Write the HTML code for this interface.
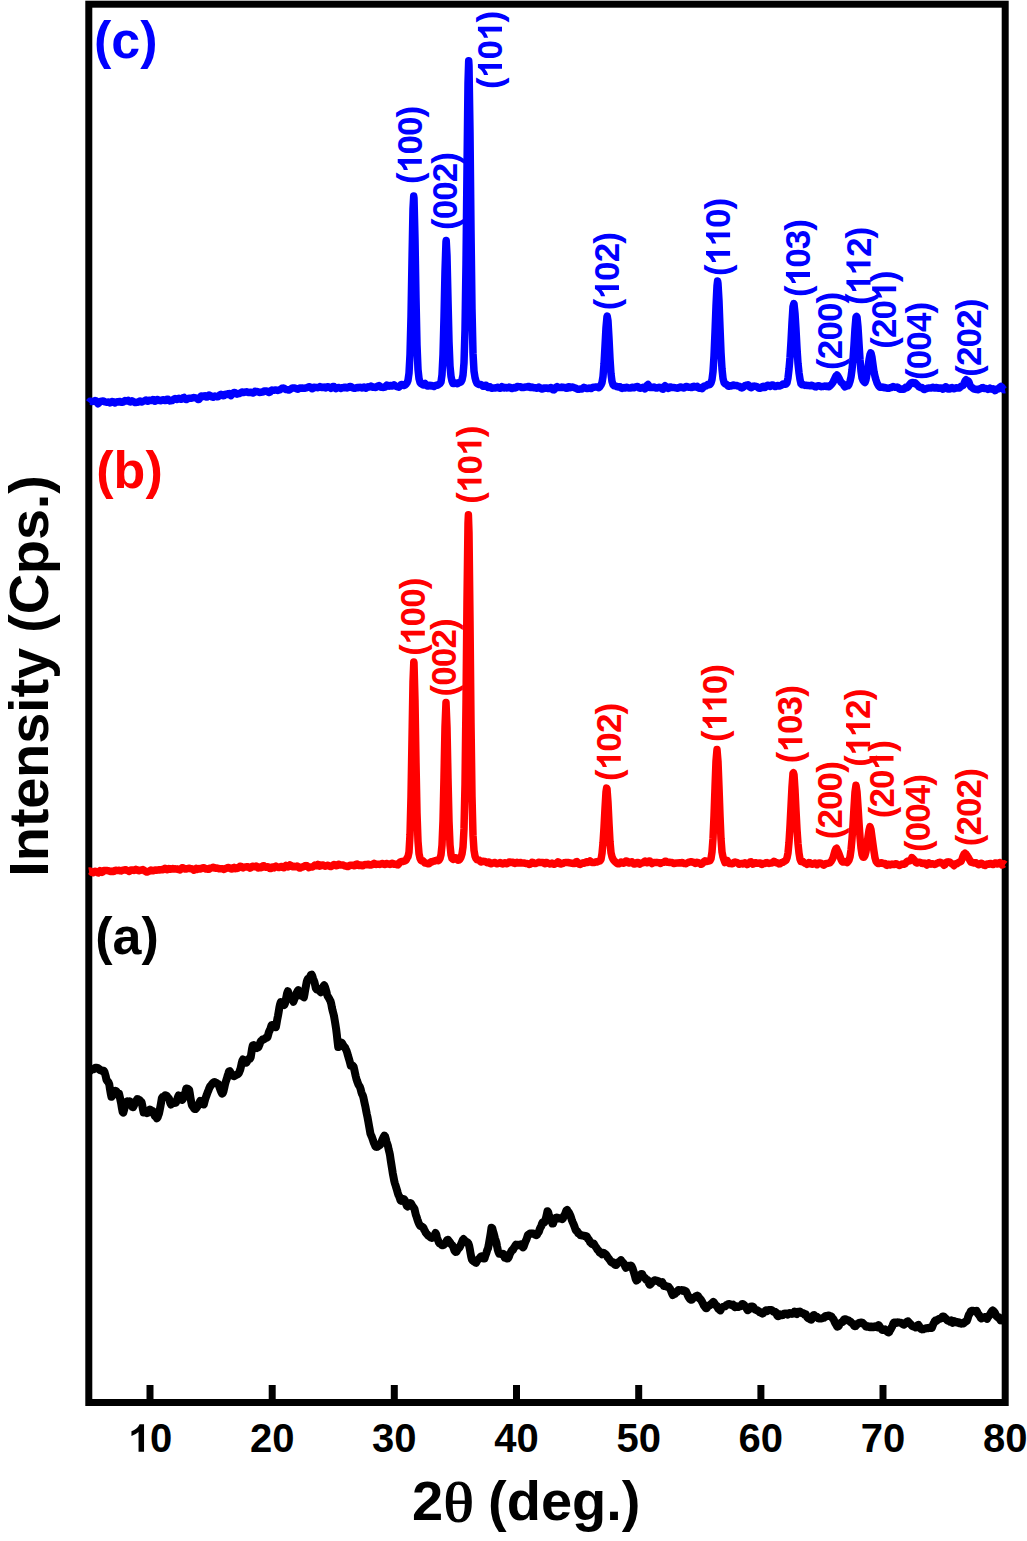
<!DOCTYPE html>
<html><head><meta charset="utf-8"><style>
html,body{margin:0;padding:0;background:#fff;}
body{width:1027px;height:1541px;overflow:hidden;}
svg{position:absolute;left:0;top:0;}
text{font-family:"Liberation Sans",sans-serif;font-weight:bold;}
</style></head><body>
<svg width="1027" height="1541" viewBox="0 0 1027 1541">

<rect x="88.8" y="4.2" width="916.4" height="1398.3" fill="none" stroke="#000" stroke-width="7"/>
<g stroke="#000" stroke-width="7"><line x1="150.0" y1="1399" x2="150.0" y2="1385" /><line x1="272.2" y1="1399" x2="272.2" y2="1385" /><line x1="394.3" y1="1399" x2="394.3" y2="1385" /><line x1="516.5" y1="1399" x2="516.5" y2="1385" /><line x1="638.7" y1="1399" x2="638.7" y2="1385" /><line x1="760.9" y1="1399" x2="760.9" y2="1385" /><line x1="883.0" y1="1399" x2="883.0" y2="1385" /></g>
<g fill="none" stroke-linejoin="round" stroke-linecap="butt" stroke-width="7.5">
<path stroke="#0000ff" d="M89.0 402.5L90.0 401.2L91.0 401.3L92.0 401.6L93.0 401.4L94.0 401.1L95.0 400.6L96.0 400.9L97.0 402.3L98.0 403.7L99.0 402.9L100.0 401.7L101.0 401.4L102.0 401.1L103.0 400.9L104.0 401.4L105.0 401.9L106.0 402.1L107.0 402.3L108.0 402.0L109.0 402.2L110.0 402.9L111.0 402.4L112.0 401.6L113.0 401.7L114.0 402.6L115.0 403.0L116.0 402.1L117.0 401.8L118.0 402.0L119.0 401.4L120.0 401.5L121.0 402.3L122.0 402.3L123.0 402.1L124.0 401.2L125.0 400.5L126.0 401.1L127.0 400.9L128.0 400.4L129.0 401.5L130.0 402.0L131.0 401.2L132.0 400.8L133.0 401.3L134.0 402.0L135.0 402.6L136.0 402.5L137.0 402.2L138.0 402.2L139.0 401.5L140.0 401.1L141.0 401.8L142.0 402.0L143.0 401.3L144.0 401.0L145.0 400.5L146.0 400.1L147.0 401.0L148.0 401.2L149.0 400.3L150.0 400.3L151.0 400.6L152.0 400.5L153.0 399.6L154.0 399.8L155.0 401.2L156.0 400.9L157.0 399.5L158.0 399.7L159.0 400.3L160.0 400.6L161.0 400.8L162.0 400.1L163.0 399.7L164.0 400.0L165.0 400.6L166.0 400.3L167.0 399.2L168.0 399.2L169.0 400.5L170.0 400.9L171.0 400.7L172.0 400.6L173.0 399.9L174.0 399.0L175.0 398.5L176.0 399.1L177.0 399.5L178.0 398.6L179.0 398.3L180.0 398.8L181.0 399.3L182.0 399.0L183.0 397.8L184.0 397.4L185.0 398.5L186.0 399.5L187.0 399.4L188.0 398.6L189.0 398.2L190.0 398.2L191.0 398.3L192.0 398.1L193.0 397.7L194.0 397.6L195.0 397.8L196.0 397.9L197.0 398.5L198.0 399.4L199.0 399.4L200.0 397.9L201.0 396.2L202.0 395.9L203.0 396.5L204.0 396.2L205.0 395.8L206.0 396.9L207.0 397.0L208.0 395.6L209.0 395.0L210.0 395.4L211.0 396.0L212.0 396.9L213.0 397.2L214.0 396.4L215.0 396.0L216.0 396.3L217.0 396.7L218.0 396.7L219.0 395.9L220.0 394.8L221.0 394.3L222.0 394.8L223.0 395.7L224.0 395.5L225.0 394.5L226.0 394.3L227.0 394.4L228.0 393.8L229.0 393.6L230.0 394.9L231.0 395.6L232.0 394.4L233.0 393.1L234.0 392.5L235.0 392.7L236.0 393.7L237.0 394.2L238.0 393.7L239.0 393.5L240.0 393.4L241.0 392.8L242.0 392.0L243.0 392.2L244.0 392.5L245.0 392.2L246.0 391.9L247.0 391.8L248.0 392.3L249.0 392.6L250.0 392.2L251.0 392.2L252.0 392.7L253.0 393.1L254.0 392.5L255.0 391.3L256.0 391.4L257.0 391.6L258.0 391.7L259.0 392.3L260.0 392.5L261.0 392.2L262.0 392.0L263.0 392.0L264.0 391.2L265.0 390.9L266.0 391.0L267.0 391.2L268.0 392.0L269.0 392.4L270.0 392.0L271.0 390.8L272.0 390.0L273.0 390.3L274.0 390.3L275.0 389.9L276.0 389.9L277.0 390.3L278.0 390.4L279.0 389.9L280.0 389.7L281.0 389.0L282.0 388.3L283.0 388.1L284.0 388.2L285.0 389.0L286.0 389.6L287.0 389.5L288.0 389.8L289.0 390.1L290.0 389.5L291.0 388.9L292.0 388.1L293.0 387.9L294.0 388.1L295.0 388.0L296.0 388.5L297.0 389.1L298.0 389.2L299.0 388.5L300.0 388.1L301.0 388.2L302.0 388.1L303.0 388.1L304.0 388.3L305.0 388.2L306.0 387.9L307.0 387.6L308.0 387.2L309.0 386.8L310.0 387.0L311.0 387.7L312.0 388.8L313.0 388.5L314.0 387.2L315.0 387.4L316.0 387.6L317.0 387.4L318.0 387.7L319.0 387.2L320.0 386.5L321.0 387.0L322.0 387.6L323.0 387.3L324.0 387.1L325.0 387.8L326.0 387.9L327.0 386.9L328.0 386.7L329.0 387.1L330.0 387.6L331.0 388.4L332.0 387.8L333.0 386.6L334.0 386.6L335.0 387.8L336.0 388.7L337.0 388.0L338.0 387.5L339.0 387.6L340.0 388.1L341.0 388.5L342.0 387.8L343.0 387.6L344.0 387.7L345.0 387.3L346.0 387.2L347.0 387.9L348.0 387.6L349.0 386.9L350.0 386.4L351.0 386.6L352.0 387.5L353.0 388.1L354.0 388.2L355.0 388.2L356.0 387.8L357.0 387.5L358.0 387.7L359.0 387.6L360.0 387.3L361.0 387.7L362.0 388.0L363.0 387.3L364.0 387.0L365.0 387.8L366.0 388.2L367.0 387.3L368.0 386.7L369.0 387.1L370.0 386.9L371.0 386.1L372.0 386.8L373.0 387.3L374.0 387.0L375.0 387.5L376.0 387.3L377.0 386.5L378.0 386.1L379.0 385.6L380.0 386.3L381.0 387.2L382.0 387.1L383.0 387.4L384.0 387.3L385.0 387.1L386.0 386.2L387.0 385.0L388.0 385.5L389.0 386.1L390.0 385.4L391.0 385.4L392.0 386.0L393.0 385.6L394.0 384.9L395.0 385.6L396.0 386.4L397.0 386.4L398.0 386.9L399.0 387.2L400.0 386.0L401.0 384.6L402.0 384.4L403.0 385.1L404.0 385.5L405.0 385.1L406.0 384.1L407.0 382.8L408.0 380.3L409.0 373.2L410.0 354.6L411.0 316.5L412.0 260.6L413.0 208.9L413.7 196.1L414.0 198.0L415.0 238.8L416.0 298.0L417.0 344.9L418.0 369.3L419.0 378.5L420.0 382.4L421.0 383.7L422.0 384.2L423.0 384.9L424.0 383.9L425.0 383.4L426.0 384.8L427.0 385.8L428.0 386.1L429.0 385.4L430.0 385.3L431.0 386.0L432.0 385.6L433.0 385.9L434.0 386.5L435.0 385.9L436.0 385.3L437.0 385.3L438.0 385.0L439.0 384.1L440.0 383.5L441.0 381.9L442.0 374.8L443.0 354.6L444.0 317.6L445.0 271.4L446.0 241.6L446.2 240.5L447.0 255.8L448.0 299.9L449.0 341.6L450.0 366.2L451.0 376.4L452.0 381.1L453.0 383.6L454.0 383.5L455.0 382.8L456.0 383.1L457.0 383.8L458.0 383.4L459.0 382.6L460.0 382.5L461.0 382.0L462.0 379.9L463.0 375.3L464.0 362.9L465.0 329.9L466.0 263.9L467.0 169.3L468.0 83.4L468.7 60.8L469.0 65.6L470.0 131.8L471.0 229.8L472.0 308.9L473.0 353.2L474.0 371.2L475.0 377.5L476.0 381.2L477.0 383.3L478.0 384.1L479.0 384.5L480.0 384.5L481.0 384.5L482.0 385.2L483.0 386.3L484.0 386.2L485.0 385.4L486.0 385.2L487.0 386.3L488.0 387.4L489.0 387.0L490.0 386.7L491.0 387.8L492.0 388.3L493.0 388.1L494.0 388.0L495.0 388.0L496.0 387.8L497.0 387.4L498.0 387.2L499.0 387.8L500.0 388.3L501.0 387.8L502.0 386.7L503.0 387.3L504.0 387.9L505.0 387.5L506.0 387.6L507.0 388.0L508.0 387.7L509.0 387.1L510.0 387.4L511.0 388.3L512.0 388.5L513.0 387.9L514.0 387.6L515.0 387.9L516.0 387.8L517.0 386.7L518.0 386.4L519.0 386.8L520.0 386.7L521.0 386.9L522.0 387.6L523.0 387.6L524.0 387.3L525.0 387.2L526.0 386.9L527.0 386.9L528.0 386.5L529.0 386.6L530.0 387.5L531.0 387.4L532.0 387.0L533.0 387.3L534.0 387.8L535.0 387.8L536.0 388.0L537.0 388.2L538.0 387.5L539.0 387.1L540.0 387.7L541.0 388.6L542.0 389.1L543.0 388.9L544.0 388.1L545.0 388.0L546.0 388.2L547.0 388.1L548.0 388.5L549.0 388.4L550.0 387.7L551.0 387.6L552.0 388.3L553.0 389.7L554.0 389.9L555.0 388.6L556.0 387.2L557.0 386.6L558.0 387.3L559.0 387.6L560.0 387.4L561.0 387.5L562.0 387.1L563.0 387.3L564.0 387.5L565.0 387.4L566.0 388.3L567.0 388.3L568.0 386.9L569.0 386.7L570.0 387.7L571.0 387.6L572.0 387.0L573.0 387.2L574.0 387.6L575.0 387.9L576.0 388.3L577.0 388.8L578.0 389.3L579.0 389.3L580.0 388.9L581.0 388.9L582.0 389.0L583.0 388.1L584.0 387.4L585.0 387.8L586.0 388.4L587.0 388.6L588.0 388.3L589.0 388.0L590.0 388.4L591.0 388.6L592.0 387.9L593.0 387.3L594.0 387.3L595.0 387.1L596.0 387.1L597.0 387.1L598.0 387.5L599.0 387.7L600.0 386.5L601.0 385.0L602.0 382.7L603.0 376.6L604.0 364.1L605.0 346.2L606.0 327.5L607.0 316.7L607.2 316.0L608.0 320.9L609.0 338.4L610.0 358.8L611.0 373.8L612.0 381.4L613.0 384.7L614.0 385.8L615.0 385.8L616.0 386.1L617.0 386.7L618.0 387.0L619.0 386.8L620.0 386.7L621.0 388.0L622.0 388.5L623.0 387.8L624.0 387.6L625.0 387.9L626.0 387.5L627.0 387.2L628.0 387.8L629.0 388.0L630.0 388.1L631.0 387.8L632.0 387.2L633.0 387.5L634.0 387.7L635.0 387.1L636.0 386.8L637.0 386.5L638.0 386.7L639.0 387.9L640.0 388.2L641.0 388.0L642.0 387.9L643.0 387.2L644.0 387.6L645.0 388.8L646.0 387.9L647.0 385.4L648.0 384.5L649.0 386.1L650.0 387.6L651.0 387.4L652.0 387.3L653.0 387.5L654.0 387.1L655.0 387.5L656.0 388.1L657.0 388.0L658.0 387.6L659.0 387.3L660.0 387.4L661.0 387.7L662.0 388.8L663.0 389.1L664.0 387.0L665.0 385.7L666.0 386.6L667.0 387.8L668.0 388.4L669.0 388.1L670.0 386.9L671.0 387.0L672.0 387.5L673.0 387.4L674.0 387.6L675.0 387.7L676.0 387.9L677.0 388.2L678.0 388.2L679.0 387.7L680.0 387.0L681.0 387.1L682.0 387.4L683.0 387.8L684.0 388.0L685.0 387.2L686.0 386.4L687.0 386.4L688.0 387.0L689.0 387.2L690.0 387.2L691.0 387.6L692.0 387.5L693.0 386.6L694.0 386.2L695.0 386.9L696.0 386.9L697.0 386.4L698.0 387.6L699.0 388.3L700.0 387.6L701.0 387.8L702.0 388.6L703.0 387.7L704.0 386.2L705.0 386.0L706.0 386.0L707.0 385.1L708.0 384.4L709.0 384.8L710.0 384.4L711.0 382.9L712.0 379.6L713.0 371.7L714.0 355.9L715.0 332.3L716.0 306.1L717.0 285.9L717.6 281.0L718.0 283.6L719.0 300.9L720.0 327.5L721.0 352.4L722.0 369.0L723.0 378.3L724.0 382.5L725.0 383.9L726.0 384.0L727.0 384.7L728.0 386.0L729.0 386.2L730.0 385.8L731.0 385.9L732.0 385.8L733.0 385.1L734.0 385.1L735.0 385.6L736.0 385.5L737.0 385.6L738.0 386.1L739.0 386.2L740.0 386.7L741.0 387.6L742.0 387.9L743.0 387.4L744.0 386.6L745.0 385.6L746.0 385.3L747.0 385.1L748.0 384.8L749.0 385.6L750.0 387.1L751.0 387.8L752.0 387.2L753.0 386.3L754.0 386.1L755.0 386.2L756.0 386.5L757.0 386.7L758.0 387.5L759.0 388.3L760.0 388.3L761.0 387.9L762.0 386.9L763.0 386.4L764.0 387.4L765.0 387.4L766.0 386.3L767.0 385.5L768.0 385.2L769.0 385.7L770.0 386.4L771.0 386.0L772.0 385.1L773.0 385.0L774.0 385.9L775.0 386.5L776.0 386.4L777.0 385.6L778.0 385.4L779.0 386.1L780.0 385.8L781.0 385.4L782.0 384.9L783.0 383.9L784.0 384.0L785.0 384.3L786.0 384.1L787.0 382.7L788.0 377.9L789.0 369.3L790.0 357.5L791.0 341.4L792.0 322.4L793.0 306.7L793.8 303.7L794.0 303.9L795.0 313.3L796.0 329.6L797.0 348.1L798.0 363.5L799.0 372.7L800.0 379.4L801.0 383.8L802.0 384.7L803.0 384.5L804.0 384.9L805.0 385.4L806.0 385.2L807.0 385.5L808.0 385.6L809.0 385.6L810.0 385.8L811.0 385.3L812.0 385.3L813.0 385.8L814.0 386.1L815.0 386.7L816.0 386.9L817.0 386.2L818.0 385.8L819.0 385.8L820.0 386.2L821.0 386.7L822.0 386.6L823.0 386.6L824.0 386.2L825.0 386.1L826.0 386.4L827.0 386.0L828.0 386.5L829.0 386.8L830.0 385.9L831.0 384.9L832.0 383.8L833.0 382.2L834.0 380.2L835.0 377.9L836.0 375.9L837.0 375.4L837.2 375.0L838.0 376.4L839.0 378.1L840.0 380.3L841.0 382.1L842.0 383.1L843.0 383.8L844.0 385.6L845.0 386.9L846.0 386.3L847.0 385.8L848.0 385.8L849.0 384.3L850.0 381.4L851.0 377.0L852.0 369.8L853.0 359.2L854.0 344.9L855.0 328.5L856.0 317.1L856.5 316.5L857.0 317.1L858.0 327.2L859.0 343.5L860.0 359.5L861.0 371.1L862.0 377.9L863.0 380.4L864.0 381.7L865.0 382.5L866.0 379.7L867.0 373.7L868.0 367.0L869.0 360.0L870.0 354.6L870.7 352.9L871.0 353.0L872.0 357.4L873.0 364.8L874.0 371.8L875.0 376.4L876.0 379.9L877.0 382.9L878.0 384.8L879.0 386.3L880.0 387.3L881.0 387.2L882.0 386.9L883.0 387.4L884.0 387.7L885.0 387.5L886.0 387.9L887.0 388.2L888.0 388.2L889.0 388.2L890.0 387.8L891.0 387.6L892.0 387.1L893.0 386.6L894.0 386.9L895.0 387.3L896.0 387.3L897.0 387.1L898.0 387.4L899.0 388.6L900.0 389.3L901.0 389.0L902.0 389.0L903.0 389.3L904.0 389.3L905.0 388.0L906.0 387.1L907.0 387.7L908.0 387.0L909.0 385.4L910.0 384.1L911.0 383.0L912.0 382.4L913.0 382.7L913.1 382.9L914.0 383.5L915.0 382.8L916.0 383.6L917.0 384.8L918.0 385.6L919.0 386.8L920.0 387.4L921.0 387.3L922.0 387.6L923.0 388.6L924.0 389.5L925.0 389.4L926.0 388.8L927.0 388.4L928.0 388.1L929.0 387.9L930.0 387.9L931.0 388.0L932.0 387.4L933.0 387.3L934.0 388.1L935.0 388.1L936.0 387.4L937.0 387.6L938.0 388.3L939.0 388.2L940.0 387.9L941.0 388.0L942.0 388.6L943.0 389.2L944.0 388.7L945.0 387.0L946.0 386.7L947.0 388.1L948.0 389.1L949.0 389.1L950.0 388.8L951.0 387.9L952.0 387.6L953.0 388.4L954.0 388.8L955.0 388.4L956.0 387.8L957.0 387.8L958.0 388.1L959.0 388.1L960.0 387.4L961.0 386.3L962.0 385.9L963.0 385.4L964.0 383.5L965.0 381.1L966.0 379.8L966.6 380.8L967.0 380.9L968.0 380.8L969.0 382.2L970.0 385.1L971.0 386.8L972.0 387.5L973.0 388.3L974.0 389.1L975.0 389.2L976.0 389.3L977.0 389.6L978.0 389.7L979.0 389.3L980.0 388.7L981.0 388.5L982.0 387.8L983.0 387.6L984.0 388.3L985.0 388.6L986.0 388.5L987.0 388.8L988.0 389.5L989.0 389.0L990.0 388.2L991.0 388.9L992.0 389.2L993.0 388.8L994.0 389.6L995.0 390.6L996.0 390.1L997.0 389.0L998.0 388.8L999.0 388.7L1000.0 387.3L1001.0 386.5L1002.0 387.4L1003.0 388.7L1004.0 389.8L1005.0 389.6"/>
<path stroke="#ff0000" d="M89.0 871.1L90.0 870.9L91.0 871.5L92.0 872.4L93.0 872.7L94.0 872.1L95.0 871.3L96.0 871.4L97.0 872.5L98.0 873.0L99.0 872.0L100.0 870.7L101.0 871.2L102.0 872.3L103.0 871.7L104.0 870.5L105.0 870.6L106.0 870.6L107.0 870.6L108.0 870.7L109.0 871.0L110.0 871.5L111.0 871.3L112.0 871.1L113.0 871.6L114.0 871.4L115.0 870.4L116.0 870.3L117.0 870.4L118.0 870.4L119.0 870.3L120.0 870.7L121.0 870.9L122.0 870.5L123.0 870.2L124.0 870.1L125.0 869.7L126.0 869.8L127.0 870.3L128.0 870.6L129.0 871.4L130.0 871.0L131.0 869.9L132.0 870.0L133.0 870.1L134.0 870.4L135.0 870.1L136.0 869.4L137.0 869.8L138.0 870.6L139.0 870.7L140.0 870.3L141.0 870.2L142.0 869.9L143.0 869.6L144.0 870.2L145.0 871.1L146.0 871.8L147.0 872.1L148.0 871.6L149.0 871.2L150.0 870.8L151.0 870.0L152.0 870.3L153.0 870.8L154.0 870.3L155.0 870.0L156.0 870.2L157.0 870.2L158.0 869.9L159.0 869.8L160.0 870.0L161.0 869.7L162.0 869.6L163.0 869.7L164.0 868.9L165.0 868.3L166.0 868.9L167.0 869.8L168.0 869.4L169.0 868.6L170.0 868.8L171.0 869.2L172.0 868.7L173.0 868.6L174.0 869.1L175.0 868.8L176.0 868.9L177.0 869.2L178.0 869.1L179.0 869.6L180.0 869.9L181.0 869.0L182.0 867.8L183.0 867.7L184.0 868.4L185.0 869.0L186.0 869.0L187.0 868.8L188.0 868.4L189.0 868.3L190.0 868.5L191.0 868.8L192.0 868.8L193.0 869.4L194.0 870.2L195.0 869.2L196.0 868.5L197.0 869.5L198.0 869.2L199.0 868.6L200.0 869.0L201.0 868.8L202.0 868.1L203.0 867.8L204.0 867.8L205.0 868.6L206.0 869.1L207.0 868.8L208.0 869.2L209.0 869.3L210.0 868.3L211.0 868.1L212.0 867.9L213.0 867.3L214.0 867.4L215.0 868.1L216.0 868.3L217.0 868.0L218.0 868.3L219.0 868.7L220.0 868.8L221.0 868.8L222.0 868.7L223.0 869.0L224.0 869.4L225.0 868.9L226.0 868.4L227.0 868.1L228.0 867.4L229.0 867.6L230.0 868.4L231.0 868.9L232.0 868.9L233.0 867.8L234.0 867.4L235.0 868.7L236.0 868.6L237.0 867.7L238.0 868.1L239.0 867.4L240.0 866.3L241.0 866.5L242.0 867.5L243.0 868.0L244.0 867.3L245.0 866.9L246.0 867.0L247.0 866.8L248.0 866.7L249.0 867.5L250.0 868.2L251.0 867.7L252.0 866.5L253.0 866.3L254.0 866.7L255.0 866.6L256.0 866.1L257.0 866.5L258.0 868.1L259.0 867.9L260.0 867.0L261.0 867.7L262.0 867.4L263.0 865.8L264.0 865.8L265.0 866.8L266.0 867.2L267.0 867.0L268.0 866.7L269.0 867.3L270.0 868.6L271.0 868.5L272.0 866.9L273.0 866.9L274.0 867.8L275.0 866.8L276.0 866.1L277.0 866.7L278.0 867.3L279.0 867.6L280.0 867.0L281.0 866.4L282.0 866.7L283.0 867.5L284.0 867.8L285.0 866.7L286.0 865.4L287.0 865.9L288.0 866.9L289.0 866.0L290.0 864.9L291.0 865.5L292.0 866.6L293.0 866.8L294.0 866.3L295.0 866.7L296.0 866.8L297.0 866.1L298.0 866.5L299.0 867.8L300.0 868.1L301.0 867.4L302.0 867.0L303.0 866.9L304.0 866.4L305.0 865.8L306.0 865.6L307.0 865.8L308.0 866.9L309.0 867.7L310.0 867.2L311.0 867.1L312.0 867.1L313.0 866.6L314.0 866.0L315.0 865.0L316.0 865.6L317.0 865.7L318.0 864.4L319.0 864.8L320.0 866.1L321.0 865.7L322.0 865.0L323.0 865.1L324.0 865.5L325.0 866.2L326.0 866.1L327.0 865.5L328.0 865.2L329.0 865.8L330.0 866.5L331.0 866.4L332.0 866.0L333.0 865.3L334.0 864.5L335.0 864.9L336.0 865.7L337.0 865.5L338.0 864.5L339.0 864.2L340.0 864.9L341.0 865.1L342.0 865.0L343.0 865.1L344.0 865.5L345.0 865.9L346.0 866.2L347.0 866.5L348.0 866.6L349.0 866.0L350.0 865.2L351.0 865.2L352.0 865.3L353.0 865.3L354.0 865.7L355.0 865.7L356.0 864.4L357.0 864.1L358.0 865.2L359.0 865.6L360.0 865.0L361.0 864.9L362.0 865.8L363.0 865.8L364.0 864.9L365.0 864.6L366.0 864.7L367.0 864.7L368.0 864.2L369.0 864.4L370.0 865.1L371.0 865.1L372.0 864.7L373.0 864.0L374.0 863.4L375.0 864.1L376.0 864.4L377.0 864.3L378.0 864.2L379.0 864.2L380.0 864.5L381.0 864.0L382.0 863.4L383.0 863.6L384.0 864.4L385.0 864.6L386.0 863.6L387.0 863.4L388.0 864.0L389.0 864.1L390.0 864.4L391.0 864.1L392.0 863.3L393.0 863.4L394.0 864.2L395.0 864.3L396.0 864.1L397.0 864.7L398.0 864.9L399.0 863.5L400.0 862.1L401.0 861.6L402.0 861.4L403.0 861.5L404.0 861.1L405.0 860.8L406.0 860.2L407.0 858.2L408.0 856.7L409.0 852.1L410.0 834.8L411.0 796.7L412.0 739.1L413.0 682.1L413.8 661.9L414.0 663.0L415.0 700.5L416.0 762.2L417.0 812.9L418.0 841.3L419.0 853.6L420.0 858.2L421.0 860.2L422.0 861.0L423.0 860.8L424.0 861.8L425.0 863.1L426.0 863.1L427.0 863.4L428.0 863.8L429.0 863.8L430.0 862.9L431.0 861.8L432.0 861.7L433.0 861.5L434.0 861.0L435.0 860.9L436.0 860.4L437.0 860.2L438.0 860.7L439.0 860.3L440.0 858.5L441.0 854.8L442.0 845.1L443.0 820.8L444.0 777.4L445.0 726.9L446.0 702.5L447.0 727.3L448.0 778.0L449.0 821.1L450.0 844.8L451.0 854.7L452.0 858.4L453.0 859.4L454.0 859.0L455.0 857.7L456.0 857.7L457.0 859.3L458.0 860.2L459.0 860.1L460.0 859.1L461.0 857.2L462.0 854.0L463.0 847.0L464.0 828.9L465.0 784.7L466.0 704.1L467.0 600.2L468.0 523.5L468.4 514.8L469.0 532.7L470.0 620.0L471.0 722.2L472.0 796.4L473.0 835.2L474.0 850.4L475.0 856.1L476.0 858.6L477.0 859.7L478.0 860.0L479.0 860.0L480.0 861.1L481.0 862.0L482.0 861.4L483.0 861.2L484.0 861.5L485.0 861.6L486.0 862.0L487.0 862.7L488.0 862.1L489.0 861.9L490.0 863.4L491.0 863.8L492.0 863.3L493.0 863.0L494.0 862.5L495.0 862.6L496.0 863.3L497.0 863.8L498.0 863.6L499.0 863.0L500.0 862.5L501.0 862.9L502.0 863.8L503.0 863.9L504.0 862.9L505.0 862.8L506.0 863.6L507.0 863.8L508.0 863.1L509.0 862.1L510.0 862.1L511.0 862.5L512.0 862.3L513.0 862.3L514.0 863.2L515.0 863.5L516.0 862.8L517.0 862.2L518.0 862.8L519.0 863.1L520.0 862.4L521.0 862.7L522.0 863.1L523.0 862.9L524.0 863.0L525.0 863.2L526.0 863.6L527.0 863.6L528.0 863.7L529.0 864.4L530.0 864.3L531.0 863.5L532.0 862.3L533.0 862.4L534.0 863.4L535.0 863.6L536.0 863.3L537.0 863.0L538.0 862.5L539.0 862.3L540.0 862.4L541.0 862.6L542.0 862.5L543.0 862.4L544.0 863.3L545.0 863.7L546.0 862.6L547.0 862.5L548.0 863.2L549.0 863.5L550.0 863.9L551.0 863.6L552.0 863.1L553.0 863.6L554.0 864.2L555.0 864.0L556.0 863.5L557.0 862.7L558.0 861.8L559.0 862.3L560.0 863.8L561.0 864.0L562.0 863.6L563.0 863.3L564.0 862.8L565.0 862.6L566.0 862.6L567.0 862.6L568.0 862.5L569.0 862.7L570.0 863.0L571.0 863.0L572.0 863.3L573.0 863.4L574.0 863.6L575.0 863.3L576.0 861.9L577.0 861.6L578.0 863.0L579.0 864.2L580.0 864.5L581.0 864.1L582.0 863.3L583.0 862.7L584.0 863.2L585.0 863.1L586.0 862.0L587.0 861.8L588.0 862.4L589.0 861.9L590.0 861.0L591.0 861.8L592.0 862.6L593.0 862.5L594.0 862.6L595.0 862.4L596.0 861.8L597.0 861.9L598.0 861.5L599.0 860.9L600.0 861.0L601.0 859.5L602.0 853.5L603.0 842.9L604.0 827.6L605.0 808.5L606.0 791.8L606.6 788.1L607.0 788.8L608.0 802.5L609.0 823.1L610.0 841.6L611.0 852.6L612.0 856.9L613.0 859.1L614.0 860.6L615.0 861.6L616.0 862.5L617.0 863.3L618.0 863.8L619.0 863.8L620.0 863.2L621.0 862.1L622.0 862.2L623.0 863.2L624.0 863.2L625.0 862.2L626.0 861.0L627.0 861.2L628.0 862.7L629.0 863.1L630.0 862.6L631.0 861.9L632.0 861.8L633.0 862.8L634.0 864.1L635.0 864.1L636.0 863.3L637.0 862.4L638.0 862.5L639.0 863.8L640.0 864.1L641.0 863.1L642.0 862.9L643.0 862.8L644.0 861.8L645.0 861.1L646.0 862.1L647.0 862.7L648.0 861.9L649.0 861.0L650.0 861.0L651.0 862.8L652.0 863.6L653.0 863.0L654.0 862.5L655.0 862.4L656.0 862.6L657.0 862.6L658.0 862.6L659.0 862.8L660.0 863.4L661.0 863.4L662.0 862.6L663.0 862.4L664.0 862.2L665.0 861.3L666.0 861.3L667.0 862.2L668.0 862.2L669.0 862.3L670.0 862.6L671.0 862.4L672.0 862.5L673.0 863.1L674.0 863.6L675.0 863.4L676.0 862.9L677.0 863.1L678.0 863.1L679.0 862.8L680.0 863.0L681.0 862.9L682.0 862.4L683.0 862.9L684.0 863.5L685.0 863.6L686.0 863.7L687.0 863.0L688.0 862.5L689.0 862.3L690.0 861.9L691.0 861.7L692.0 862.0L693.0 862.2L694.0 862.4L695.0 863.4L696.0 863.3L697.0 862.3L698.0 862.6L699.0 862.9L700.0 863.3L701.0 864.3L702.0 863.8L703.0 862.8L704.0 861.6L705.0 860.9L706.0 861.4L707.0 861.4L708.0 861.1L709.0 861.0L710.0 860.7L711.0 858.6L712.0 852.0L713.0 838.4L714.0 816.1L715.0 787.8L716.0 761.0L717.0 749.5L718.0 761.5L719.0 787.2L720.0 815.3L721.0 838.8L722.0 852.1L723.0 856.9L724.0 860.0L725.0 862.6L726.0 861.8L727.0 860.4L728.0 861.7L729.0 863.5L730.0 863.6L731.0 863.5L732.0 863.8L733.0 863.4L734.0 862.3L735.0 862.0L736.0 862.4L737.0 862.4L738.0 863.2L739.0 864.3L740.0 864.0L741.0 863.4L742.0 863.5L743.0 863.9L744.0 863.6L745.0 862.8L746.0 863.5L747.0 864.6L748.0 864.1L749.0 862.9L750.0 862.1L751.0 861.7L752.0 862.8L753.0 864.1L754.0 863.6L755.0 862.7L756.0 862.8L757.0 863.2L758.0 863.3L759.0 863.0L760.0 863.1L761.0 864.1L762.0 864.4L763.0 863.5L764.0 863.4L765.0 863.6L766.0 862.8L767.0 862.6L768.0 863.1L769.0 863.4L770.0 863.1L771.0 862.9L772.0 863.0L773.0 862.3L774.0 861.4L775.0 861.9L776.0 862.7L777.0 862.6L778.0 863.2L779.0 863.9L780.0 863.7L781.0 862.9L782.0 862.4L783.0 862.2L784.0 861.4L785.0 861.0L786.0 860.4L787.0 857.9L788.0 852.9L789.0 842.4L790.0 826.0L791.0 806.5L792.0 786.7L793.0 773.3L793.4 772.8L794.0 774.6L795.0 789.8L796.0 810.5L797.0 829.5L798.0 843.6L799.0 853.1L800.0 859.1L801.0 861.6L802.0 861.7L803.0 861.6L804.0 862.6L805.0 863.2L806.0 863.6L807.0 864.4L808.0 863.8L809.0 862.6L810.0 862.8L811.0 863.9L812.0 864.2L813.0 864.0L814.0 863.4L815.0 863.0L816.0 863.9L817.0 864.7L818.0 863.9L819.0 862.9L820.0 862.9L821.0 863.3L822.0 863.9L823.0 864.8L824.0 865.1L825.0 864.1L826.0 863.4L827.0 863.4L828.0 863.3L829.0 862.9L830.0 862.7L831.0 861.6L832.0 859.9L833.0 857.8L834.0 854.4L835.0 850.8L836.0 848.7L836.6 848.3L837.0 849.6L838.0 851.4L839.0 853.8L840.0 856.5L841.0 859.4L842.0 861.4L843.0 862.1L844.0 862.0L845.0 861.5L846.0 862.0L847.0 862.6L848.0 861.7L849.0 860.2L850.0 857.0L851.0 849.9L852.0 839.0L853.0 824.7L854.0 807.7L855.0 792.1L856.0 785.2L857.0 791.7L858.0 806.6L859.0 822.8L860.0 837.1L861.0 848.0L862.0 854.4L863.0 857.2L864.0 857.2L865.0 855.4L866.0 851.5L867.0 844.8L868.0 837.0L869.0 830.3L870.0 826.6L871.0 829.7L872.0 837.2L873.0 844.5L874.0 851.5L875.0 857.8L876.0 861.2L877.0 862.6L878.0 863.5L879.0 863.6L880.0 863.2L881.0 862.8L882.0 862.8L883.0 863.3L884.0 863.6L885.0 863.6L886.0 864.8L887.0 865.3L888.0 864.2L889.0 864.2L890.0 864.9L891.0 864.5L892.0 864.0L893.0 864.5L894.0 864.6L895.0 863.9L896.0 863.7L897.0 864.2L898.0 864.8L899.0 865.4L900.0 865.4L901.0 864.6L902.0 864.0L903.0 864.0L904.0 864.2L905.0 863.8L906.0 862.6L907.0 861.5L908.0 861.1L909.0 861.1L910.0 860.7L911.0 859.2L911.9 858.1L912.0 857.6L913.0 858.6L914.0 859.7L915.0 861.2L916.0 862.6L917.0 863.0L918.0 862.4L919.0 862.2L920.0 862.5L921.0 862.7L922.0 863.4L923.0 863.6L924.0 863.1L925.0 863.3L926.0 864.2L927.0 865.0L928.0 864.1L929.0 863.0L930.0 863.7L931.0 864.2L932.0 863.7L933.0 863.7L934.0 864.3L935.0 864.5L936.0 864.0L937.0 863.3L938.0 862.9L939.0 862.4L940.0 862.3L941.0 862.7L942.0 862.9L943.0 864.0L944.0 865.3L945.0 864.6L946.0 862.7L947.0 861.9L948.0 862.2L949.0 862.0L950.0 862.2L951.0 863.3L952.0 863.7L953.0 864.7L954.0 865.7L955.0 864.7L956.0 863.8L957.0 863.6L958.0 862.9L959.0 862.2L960.0 862.0L961.0 861.5L962.0 859.1L963.0 856.1L964.0 854.1L965.0 853.2L965.8 853.9L966.0 854.2L967.0 855.4L968.0 857.1L969.0 858.7L970.0 860.6L971.0 862.1L972.0 862.4L973.0 862.5L974.0 863.1L975.0 862.7L976.0 862.8L977.0 863.7L978.0 864.3L979.0 864.8L980.0 864.1L981.0 863.3L982.0 863.5L983.0 864.1L984.0 865.2L985.0 865.5L986.0 864.7L987.0 863.9L988.0 864.2L989.0 864.3L990.0 863.5L991.0 863.5L992.0 864.4L993.0 864.6L994.0 863.9L995.0 863.1L996.0 863.0L997.0 864.0L998.0 863.8L999.0 862.7L1000.0 862.6L1001.0 863.6L1002.0 864.9L1003.0 864.5L1004.0 863.9L1005.0 864.7"/>
<path stroke="#000" stroke-width="8" d="M89.0 1069.9L89.7 1070.6L90.4 1070.6L91.1 1069.9L91.8 1069.6L92.5 1069.4L93.2 1069.3L93.9 1069.1L94.6 1068.3L95.3 1067.7L96.0 1067.9L96.7 1067.7L97.4 1068.0L98.1 1068.2L98.8 1068.6L99.5 1069.6L100.2 1070.2L100.9 1070.2L101.6 1070.6L102.3 1071.0L103.0 1070.6L103.7 1070.7L104.4 1071.6L105.1 1074.0L105.8 1076.6L106.5 1079.8L107.2 1081.0L107.9 1081.6L108.6 1082.6L109.3 1084.5L110.0 1089.4L110.7 1093.4L111.4 1096.8L112.1 1096.1L112.8 1095.1L113.5 1093.6L114.2 1092.7L114.9 1091.6L115.6 1090.9L116.3 1091.2L117.0 1092.3L117.7 1093.5L118.4 1094.0L119.1 1093.9L119.8 1097.0L120.5 1100.3L121.2 1103.8L121.9 1108.1L122.6 1111.9L123.3 1112.6L124.0 1110.2L124.7 1107.3L125.4 1104.0L126.1 1101.8L126.8 1101.6L127.5 1101.3L128.2 1101.8L128.9 1101.8L129.6 1101.3L130.3 1101.8L131.0 1103.0L131.7 1105.2L132.4 1107.1L133.1 1107.2L133.8 1105.8L134.5 1104.2L135.2 1103.1L135.9 1101.9L136.6 1100.4L137.3 1099.0L138.0 1099.2L138.7 1099.6L139.4 1099.9L140.1 1100.7L140.8 1101.9L141.5 1102.0L142.2 1105.0L142.9 1109.2L143.6 1112.4L144.3 1111.9L145.0 1112.1L145.7 1112.6L146.4 1112.5L147.1 1113.1L147.8 1112.8L148.5 1111.2L149.2 1110.1L149.9 1109.6L150.6 1109.8L151.3 1110.5L152.0 1111.3L152.7 1111.0L153.4 1112.1L154.1 1114.4L154.8 1116.0L155.5 1116.5L156.2 1117.0L156.9 1118.3L157.6 1117.4L158.3 1115.3L159.0 1113.5L159.7 1110.1L160.4 1106.5L161.1 1102.6L161.8 1098.4L162.5 1097.0L163.2 1097.0L163.9 1097.1L164.6 1096.0L165.3 1095.2L166.0 1095.5L166.7 1095.6L167.4 1096.9L168.1 1097.7L168.8 1098.3L169.5 1099.9L170.2 1102.9L170.9 1104.5L171.6 1103.2L172.3 1102.7L173.0 1103.0L173.7 1102.8L174.4 1102.7L175.1 1102.9L175.8 1102.8L176.5 1101.3L177.2 1099.3L177.9 1097.3L178.6 1095.5L179.3 1095.8L180.0 1095.8L180.7 1097.0L181.4 1098.8L182.1 1099.9L182.8 1099.3L183.5 1097.6L184.2 1095.8L184.9 1093.7L185.6 1091.3L186.3 1088.5L187.0 1088.4L187.7 1088.8L188.4 1089.2L189.1 1089.6L189.8 1093.3L190.5 1097.8L191.2 1101.9L191.9 1105.3L192.6 1106.2L193.3 1107.2L194.0 1108.3L194.7 1109.1L195.4 1109.1L196.1 1108.4L196.8 1107.2L197.5 1106.6L198.2 1105.4L198.9 1104.1L199.6 1102.2L200.3 1100.8L201.0 1101.4L201.7 1102.5L202.4 1103.2L203.1 1103.9L203.8 1104.4L204.5 1101.7L205.2 1099.1L205.9 1097.1L206.6 1095.3L207.3 1093.3L208.0 1091.4L208.7 1089.7L209.4 1087.8L210.1 1086.5L210.8 1085.7L211.5 1084.7L212.2 1083.8L212.9 1083.0L213.6 1082.4L214.3 1082.0L215.0 1082.3L215.7 1082.6L216.4 1082.8L217.1 1083.6L217.8 1083.8L218.5 1084.3L219.2 1086.4L219.9 1088.5L220.6 1090.5L221.3 1092.1L222.0 1093.6L222.7 1093.4L223.4 1091.6L224.1 1088.6L224.8 1085.4L225.5 1082.6L226.2 1080.4L226.9 1078.5L227.6 1075.8L228.3 1073.7L229.0 1071.4L229.7 1071.1L230.4 1072.3L231.1 1073.7L231.8 1074.2L232.5 1074.9L233.2 1075.7L233.9 1076.2L234.6 1075.8L235.3 1075.5L236.0 1075.1L236.7 1074.7L237.4 1074.5L238.1 1073.9L238.8 1073.3L239.5 1071.6L240.2 1069.8L240.9 1066.8L241.6 1063.6L242.3 1060.9L243.0 1059.5L243.7 1060.1L244.4 1060.4L245.1 1060.6L245.8 1061.7L246.5 1062.5L247.2 1061.3L247.9 1060.0L248.6 1058.9L249.3 1058.5L250.0 1058.7L250.7 1057.3L251.4 1052.8L252.1 1048.5L252.8 1045.5L253.5 1045.2L254.2 1046.3L254.9 1047.1L255.6 1047.2L256.3 1047.8L257.0 1048.1L257.7 1047.6L258.4 1047.3L259.1 1045.6L259.8 1043.8L260.5 1041.9L261.2 1040.6L261.9 1040.5L262.6 1039.5L263.3 1039.2L264.0 1039.2L264.7 1038.9L265.4 1038.3L266.1 1037.6L266.8 1037.8L267.5 1037.2L268.2 1034.7L268.9 1032.0L269.6 1030.6L270.3 1029.1L271.0 1026.9L271.7 1025.0L272.4 1025.0L273.1 1025.1L273.8 1025.6L274.5 1026.1L275.2 1026.5L275.9 1027.1L276.6 1023.3L277.3 1019.1L278.0 1015.7L278.7 1011.7L279.4 1007.4L280.1 1004.2L280.8 1002.1L281.5 1002.9L282.2 1003.3L282.9 1003.7L283.6 1004.2L284.3 1004.9L285.0 1003.5L285.7 1000.1L286.4 996.7L287.1 993.2L287.8 991.2L288.5 992.8L289.2 995.0L289.9 996.0L290.6 996.8L291.3 998.1L292.0 999.3L292.7 1000.5L293.4 1001.7L294.1 999.8L294.8 998.1L295.5 996.9L296.2 994.8L296.9 992.4L297.6 991.1L298.3 990.1L299.0 991.0L299.7 991.7L300.4 993.9L301.1 995.6L301.8 995.3L302.5 995.7L303.2 996.8L303.9 997.3L304.6 993.7L305.3 989.4L306.0 985.8L306.7 981.9L307.4 979.7L308.1 978.5L308.8 978.3L309.5 978.3L310.2 976.4L310.9 974.9L311.6 974.6L312.3 976.0L313.0 978.4L313.7 980.2L314.4 981.9L315.1 984.9L315.8 988.2L316.5 989.2L317.2 988.3L317.9 988.8L318.6 989.9L319.3 990.6L320.0 991.4L320.7 992.2L321.4 991.0L322.1 989.3L322.8 987.6L323.5 986.2L324.2 985.3L324.9 986.7L325.6 988.9L326.3 991.3L327.0 994.2L327.7 996.2L328.4 997.2L329.1 998.4L329.8 999.9L330.5 1001.1L331.2 1003.6L331.9 1007.5L332.6 1010.6L333.3 1013.1L334.0 1016.0L334.7 1020.1L335.4 1024.4L336.1 1028.8L336.8 1034.6L337.5 1041.1L338.2 1047.1L338.9 1046.9L339.6 1045.5L340.3 1043.4L341.0 1042.4L341.7 1042.8L342.4 1043.7L343.1 1045.1L343.8 1046.1L344.5 1046.9L345.2 1047.8L345.9 1049.4L346.6 1050.9L347.3 1053.1L348.0 1055.7L348.7 1058.0L349.4 1060.4L350.1 1063.0L350.8 1065.7L351.5 1065.7L352.2 1065.3L352.9 1065.9L353.6 1066.8L354.3 1069.7L355.0 1073.0L355.7 1076.1L356.4 1078.9L357.1 1081.0L357.8 1082.9L358.5 1084.7L359.2 1085.8L359.9 1086.9L360.6 1089.0L361.3 1091.9L362.0 1094.0L362.7 1095.2L363.4 1097.5L364.1 1100.9L364.8 1104.1L365.5 1107.2L366.2 1110.9L366.9 1114.5L367.6 1117.7L368.3 1121.6L369.0 1125.6L369.7 1129.5L370.4 1133.6L371.1 1135.2L371.8 1136.7L372.5 1138.7L373.2 1140.9L373.9 1142.9L374.6 1144.5L375.3 1146.1L376.0 1146.8L376.7 1147.0L377.4 1146.8L378.1 1146.3L378.8 1145.7L379.5 1145.3L380.2 1144.6L380.9 1143.6L381.6 1141.7L382.3 1139.7L383.0 1138.3L383.7 1136.9L384.4 1135.6L385.1 1136.5L385.8 1138.8L386.5 1141.7L387.2 1143.8L387.9 1145.8L388.6 1149.2L389.3 1151.9L390.0 1155.2L390.7 1160.1L391.4 1164.5L392.1 1168.8L392.8 1173.4L393.5 1177.1L394.2 1180.8L394.9 1183.5L395.6 1185.5L396.3 1187.9L397.0 1190.2L397.7 1192.7L398.4 1194.9L399.1 1196.1L399.8 1198.1L400.5 1200.5L401.2 1200.9L401.9 1200.6L402.6 1199.5L403.3 1199.0L404.0 1199.1L404.7 1200.2L405.4 1201.8L406.1 1204.0L406.8 1205.8L407.5 1206.5L408.2 1206.0L408.9 1205.0L409.6 1203.7L410.3 1203.1L411.0 1203.3L411.7 1204.6L412.4 1206.2L413.1 1207.0L413.8 1207.8L414.5 1209.0L415.2 1212.1L415.9 1215.1L416.6 1216.8L417.3 1219.2L418.0 1221.3L418.7 1223.1L419.4 1224.6L420.1 1225.8L420.8 1226.0L421.5 1226.5L422.2 1226.9L422.9 1227.1L423.6 1228.2L424.3 1230.0L425.0 1231.0L425.7 1232.6L426.4 1233.5L427.1 1234.2L427.8 1235.1L428.5 1235.8L429.2 1236.2L429.9 1236.7L430.6 1237.4L431.3 1237.7L432.0 1237.9L432.7 1237.0L433.4 1236.3L434.1 1235.9L434.8 1234.7L435.5 1233.0L436.2 1234.2L436.9 1237.2L437.6 1239.4L438.3 1240.9L439.0 1242.7L439.7 1243.5L440.4 1243.5L441.1 1244.1L441.8 1245.0L442.5 1245.3L443.2 1245.0L443.9 1244.7L444.6 1244.0L445.3 1243.1L446.0 1242.2L446.7 1240.9L447.4 1239.9L448.1 1239.8L448.8 1240.9L449.5 1241.8L450.2 1242.7L450.9 1244.0L451.6 1244.7L452.3 1245.2L453.0 1246.4L453.7 1248.4L454.4 1250.4L455.1 1251.6L455.8 1252.0L456.5 1251.8L457.2 1250.3L457.9 1249.3L458.6 1248.4L459.3 1247.8L460.0 1246.5L460.7 1245.0L461.4 1243.5L462.1 1241.7L462.8 1240.0L463.5 1239.1L464.2 1239.9L464.9 1240.9L465.6 1241.8L466.3 1242.2L467.0 1242.0L467.7 1242.6L468.4 1243.5L469.1 1245.5L469.8 1249.1L470.5 1253.1L471.2 1256.7L471.9 1259.5L472.6 1260.5L473.3 1260.9L474.0 1261.6L474.7 1261.8L475.4 1262.5L476.1 1262.8L476.8 1261.3L477.5 1260.0L478.2 1259.5L478.9 1259.1L479.6 1258.2L480.3 1257.3L481.0 1256.4L481.7 1256.3L482.4 1257.2L483.1 1258.3L483.8 1258.6L484.5 1258.5L485.2 1256.2L485.9 1254.2L486.6 1252.2L487.3 1249.9L488.0 1248.4L488.7 1245.2L489.4 1241.0L490.1 1237.0L490.8 1232.5L491.5 1227.7L492.2 1228.1L492.9 1230.7L493.6 1233.2L494.3 1235.6L495.0 1238.5L495.7 1240.6L496.4 1242.7L497.1 1246.5L497.8 1249.8L498.5 1252.1L499.2 1253.8L499.9 1253.6L500.6 1253.7L501.3 1254.0L502.0 1254.3L502.7 1253.7L503.4 1254.0L504.1 1256.3L504.8 1257.8L505.5 1257.7L506.2 1258.1L506.9 1258.5L507.6 1258.6L508.3 1257.8L509.0 1256.5L509.7 1254.3L510.4 1253.1L511.1 1251.6L511.8 1250.3L512.5 1250.4L513.2 1249.6L513.9 1247.8L514.6 1247.0L515.3 1245.7L516.0 1244.6L516.7 1244.9L517.4 1244.7L518.1 1244.7L518.8 1245.3L519.5 1245.3L520.2 1245.0L520.9 1244.4L521.6 1245.1L522.3 1246.6L523.0 1247.3L523.7 1246.5L524.4 1244.5L525.1 1242.4L525.8 1240.8L526.5 1239.4L527.2 1237.1L527.9 1234.9L528.6 1234.5L529.3 1234.3L530.0 1233.5L530.7 1233.4L531.4 1233.6L532.1 1233.8L532.8 1233.5L533.5 1233.4L534.2 1233.8L534.9 1234.4L535.6 1235.0L536.3 1235.2L537.0 1234.6L537.7 1233.2L538.4 1232.4L539.1 1231.2L539.8 1228.9L540.5 1227.4L541.2 1226.3L541.9 1224.0L542.6 1222.5L543.3 1222.2L544.0 1222.6L544.7 1221.9L545.4 1219.8L546.1 1217.5L546.8 1214.5L547.5 1211.2L548.2 1212.1L548.9 1215.2L549.6 1216.8L550.3 1218.0L551.0 1219.8L551.7 1221.3L552.4 1223.6L553.1 1223.5L553.8 1221.2L554.5 1219.7L555.2 1219.0L555.9 1217.8L556.6 1217.4L557.3 1217.7L558.0 1218.2L558.7 1218.5L559.4 1218.2L560.1 1218.4L560.8 1218.6L561.5 1218.5L562.2 1219.1L562.9 1218.4L563.6 1216.8L564.3 1215.3L565.0 1214.3L565.7 1212.2L566.4 1210.4L567.1 1209.9L567.8 1211.4L568.5 1212.0L569.2 1213.0L569.9 1214.6L570.6 1216.2L571.3 1218.3L572.0 1220.6L572.7 1222.3L573.4 1223.7L574.1 1225.5L574.8 1227.4L575.5 1229.6L576.2 1230.6L576.9 1230.8L577.6 1232.0L578.3 1233.4L579.0 1233.6L579.7 1234.0L580.4 1235.2L581.1 1235.1L581.8 1235.2L582.5 1235.6L583.2 1235.5L583.9 1235.7L584.6 1236.3L585.3 1236.3L586.0 1236.1L586.7 1236.3L587.4 1237.7L588.1 1239.0L588.8 1239.5L589.5 1240.7L590.2 1242.3L590.9 1242.8L591.6 1243.6L592.3 1244.2L593.0 1243.6L593.7 1243.6L594.4 1244.8L595.1 1246.0L595.8 1247.0L596.5 1247.9L597.2 1249.3L597.9 1250.1L598.6 1250.6L599.3 1252.0L600.0 1252.8L600.7 1252.4L601.4 1253.0L602.1 1254.2L602.8 1253.7L603.5 1252.8L604.2 1253.2L604.9 1253.7L605.6 1254.4L606.3 1255.0L607.0 1256.0L607.7 1257.4L608.4 1258.2L609.1 1259.0L609.8 1260.0L610.5 1261.0L611.2 1262.1L611.9 1262.5L612.6 1262.2L613.3 1262.4L614.0 1263.4L614.7 1264.5L615.4 1265.0L616.1 1265.0L616.8 1264.1L617.5 1263.5L618.2 1262.5L618.9 1261.9L619.6 1261.8L620.3 1260.9L621.0 1260.2L621.7 1261.1L622.4 1262.2L623.1 1262.9L623.8 1263.5L624.5 1264.5L625.2 1266.6L625.9 1267.8L626.6 1267.3L627.3 1267.0L628.0 1266.2L628.7 1265.8L629.4 1266.1L630.1 1266.0L630.8 1265.6L631.5 1266.1L632.2 1267.5L632.9 1269.3L633.6 1271.6L634.3 1273.8L635.0 1276.2L635.7 1278.9L636.4 1280.6L637.1 1279.6L637.8 1279.5L638.5 1277.6L639.2 1276.0L639.9 1275.9L640.6 1274.7L641.3 1273.9L642.0 1273.9L642.7 1275.3L643.4 1276.9L644.1 1277.3L644.8 1277.6L645.5 1278.8L646.2 1279.7L646.9 1279.7L647.6 1280.0L648.3 1281.3L649.0 1283.5L649.7 1284.7L650.4 1284.4L651.1 1283.5L651.8 1282.6L652.5 1281.7L653.2 1281.4L653.9 1280.8L654.6 1280.2L655.3 1280.3L656.0 1280.5L656.7 1280.7L657.4 1281.3L658.1 1281.2L658.8 1281.4L659.5 1282.2L660.2 1283.0L660.9 1283.4L661.6 1282.7L662.3 1282.3L663.0 1284.1L663.7 1285.9L664.4 1285.8L665.1 1285.6L665.8 1286.2L666.5 1286.5L667.2 1286.5L667.9 1286.4L668.6 1286.8L669.3 1288.0L670.0 1288.7L670.7 1289.9L671.4 1291.8L672.1 1293.7L672.8 1295.0L673.5 1294.3L674.2 1294.2L674.9 1294.0L675.6 1293.0L676.3 1292.5L677.0 1292.1L677.7 1290.8L678.4 1290.1L679.1 1290.1L679.8 1290.3L680.5 1290.2L681.2 1290.1L681.9 1290.0L682.6 1290.2L683.3 1291.1L684.0 1291.0L684.7 1290.6L685.4 1291.0L686.1 1291.6L686.8 1293.1L687.5 1294.8L688.2 1296.3L688.9 1297.6L689.6 1298.5L690.3 1299.3L691.0 1299.7L691.7 1299.7L692.4 1299.1L693.1 1298.2L693.8 1297.5L694.5 1297.3L695.2 1297.0L695.9 1296.3L696.6 1295.9L697.3 1295.6L698.0 1296.0L698.7 1297.3L699.4 1298.5L700.1 1298.8L700.8 1299.5L701.5 1300.7L702.2 1302.0L702.9 1303.4L703.6 1305.0L704.3 1306.1L705.0 1306.8L705.7 1308.0L706.4 1308.3L707.1 1307.5L707.8 1306.4L708.5 1305.5L709.2 1305.5L709.9 1305.4L710.6 1304.5L711.3 1303.6L712.0 1303.5L712.7 1302.5L713.4 1301.9L714.1 1302.7L714.8 1303.7L715.5 1304.9L716.2 1305.6L716.9 1305.9L717.6 1307.6L718.3 1308.8L719.0 1309.0L719.7 1309.9L720.4 1310.4L721.1 1309.1L721.8 1308.0L722.5 1307.3L723.2 1306.7L723.9 1306.7L724.6 1306.5L725.3 1306.2L726.0 1305.5L726.7 1304.9L727.4 1304.8L728.1 1304.2L728.8 1303.9L729.5 1303.9L730.2 1304.3L730.9 1304.8L731.6 1305.1L732.3 1305.0L733.0 1304.6L733.7 1305.4L734.4 1306.8L735.1 1307.2L735.8 1306.5L736.5 1306.3L737.2 1307.1L737.9 1307.1L738.6 1306.4L739.3 1306.1L740.0 1306.4L740.7 1306.2L741.4 1305.2L742.1 1304.0L742.8 1304.0L743.5 1304.5L744.2 1305.1L744.9 1306.5L745.6 1307.2L746.3 1307.9L747.0 1309.3L747.7 1310.2L748.4 1309.8L749.1 1309.3L749.8 1308.2L750.5 1306.8L751.2 1306.5L751.9 1306.5L752.6 1306.4L753.3 1306.9L754.0 1308.1L754.7 1309.2L755.4 1309.8L756.1 1309.8L756.8 1309.9L757.5 1310.6L758.2 1310.9L758.9 1311.3L759.6 1312.2L760.3 1312.3L761.0 1312.4L761.7 1313.2L762.4 1313.6L763.1 1313.2L763.8 1312.2L764.5 1311.8L765.2 1311.2L765.9 1310.3L766.6 1310.4L767.3 1311.1L768.0 1310.6L768.7 1310.0L769.4 1310.0L770.1 1310.1L770.8 1310.0L771.5 1309.9L772.2 1310.4L772.9 1311.1L773.6 1311.7L774.3 1312.1L775.0 1311.8L775.7 1312.1L776.4 1313.5L777.1 1315.2L777.8 1316.2L778.5 1316.2L779.2 1315.1L779.9 1314.4L780.6 1315.0L781.3 1315.3L782.0 1315.1L782.7 1315.1L783.4 1314.5L784.1 1313.7L784.8 1313.5L785.5 1313.8L786.2 1313.6L786.9 1314.1L787.6 1314.6L788.3 1314.0L789.0 1313.2L789.7 1312.9L790.4 1313.2L791.1 1313.8L791.8 1313.9L792.5 1313.7L793.2 1313.6L793.9 1313.1L794.6 1311.6L795.3 1311.7L796.0 1313.7L796.7 1314.1L797.4 1312.8L798.1 1311.8L798.8 1312.2L799.5 1312.5L800.2 1311.7L800.9 1312.1L801.6 1313.1L802.3 1313.1L803.0 1312.9L803.7 1313.4L804.4 1314.4L805.1 1314.0L805.8 1314.1L806.5 1315.9L807.2 1317.3L807.9 1317.9L808.6 1318.5L809.3 1318.5L810.0 1319.0L810.7 1319.6L811.4 1319.7L812.1 1318.6L812.8 1316.8L813.5 1315.3L814.2 1315.0L814.9 1316.0L815.6 1317.1L816.3 1317.1L817.0 1316.9L817.7 1317.6L818.4 1318.4L819.1 1318.5L819.8 1318.4L820.5 1318.4L821.2 1318.5L821.9 1318.4L822.6 1318.1L823.3 1317.8L824.0 1317.8L824.7 1316.9L825.4 1316.0L826.1 1316.2L826.8 1316.3L827.5 1316.0L828.2 1315.4L828.9 1315.4L829.6 1316.0L830.3 1316.4L831.0 1316.3L831.7 1316.9L832.4 1318.1L833.1 1318.7L833.8 1319.8L834.5 1321.7L835.2 1323.0L835.9 1324.1L836.6 1325.5L837.3 1326.7L838.0 1326.5L838.7 1326.0L839.4 1324.5L840.1 1323.4L840.8 1322.8L841.5 1322.2L842.2 1322.2L842.9 1321.7L843.6 1320.2L844.3 1319.3L845.0 1319.3L845.7 1319.2L846.4 1319.8L847.1 1320.1L847.8 1320.1L848.5 1320.4L849.2 1321.1L849.9 1321.4L850.6 1321.8L851.3 1322.7L852.0 1323.3L852.7 1323.6L853.4 1324.5L854.1 1325.7L854.8 1326.2L855.5 1326.1L856.2 1325.1L856.9 1324.2L857.6 1324.0L858.3 1323.7L859.0 1323.0L859.7 1322.7L860.4 1322.6L861.1 1322.5L861.8 1322.4L862.5 1322.8L863.2 1323.6L863.9 1324.2L864.6 1324.6L865.3 1325.5L866.0 1326.6L866.7 1326.7L867.4 1326.1L868.1 1326.2L868.8 1326.7L869.5 1327.2L870.2 1327.2L870.9 1326.5L871.6 1326.4L872.3 1327.2L873.0 1327.3L873.7 1327.1L874.4 1326.7L875.1 1326.2L875.8 1326.3L876.5 1327.0L877.2 1327.3L877.9 1326.2L878.6 1325.1L879.3 1325.9L880.0 1327.1L880.7 1328.0L881.4 1328.8L882.1 1329.7L882.8 1330.0L883.5 1330.0L884.2 1329.7L884.9 1329.4L885.6 1330.4L886.3 1331.0L887.0 1331.2L887.7 1332.0L888.4 1332.5L889.1 1332.1L889.8 1330.7L890.5 1329.6L891.2 1328.3L891.9 1327.1L892.6 1325.5L893.3 1323.6L894.0 1322.6L894.7 1322.4L895.4 1322.6L896.1 1323.0L896.8 1322.7L897.5 1322.3L898.2 1322.5L898.9 1322.6L899.6 1322.6L900.3 1322.7L901.0 1322.7L901.7 1323.2L902.4 1323.9L903.1 1324.2L903.8 1324.7L904.5 1324.3L905.2 1323.3L905.9 1322.9L906.6 1322.2L907.3 1321.4L908.0 1321.3L908.7 1322.1L909.4 1323.0L910.1 1323.7L910.8 1324.4L911.5 1325.1L912.2 1326.0L912.9 1326.4L913.6 1326.4L914.3 1326.7L915.0 1327.1L915.7 1327.5L916.4 1327.4L917.1 1326.3L917.8 1325.1L918.5 1324.9L919.2 1326.1L919.9 1327.9L920.6 1328.7L921.3 1329.0L922.0 1329.4L922.7 1329.1L923.4 1329.2L924.1 1328.9L924.8 1328.5L925.5 1328.5L926.2 1328.2L926.9 1328.1L927.6 1328.3L928.3 1328.1L929.0 1327.8L929.7 1327.8L930.4 1328.0L931.1 1328.1L931.8 1327.9L932.5 1326.2L933.2 1324.3L933.9 1323.1L934.6 1321.5L935.3 1320.7L936.0 1321.1L936.7 1320.9L937.4 1320.0L938.1 1319.5L938.8 1319.0L939.5 1318.9L940.2 1318.8L940.9 1318.4L941.6 1317.6L942.3 1316.8L943.0 1316.5L943.7 1316.4L944.4 1317.4L945.1 1318.4L945.8 1318.6L946.5 1319.2L947.2 1320.3L947.9 1320.8L948.6 1320.8L949.3 1321.2L950.0 1321.7L950.7 1321.0L951.4 1320.4L952.1 1321.6L952.8 1322.8L953.5 1322.3L954.2 1321.1L954.9 1321.3L955.6 1322.0L956.3 1322.4L957.0 1322.1L957.7 1322.1L958.4 1323.0L959.1 1323.2L959.8 1322.7L960.5 1323.2L961.2 1323.7L961.9 1323.6L962.6 1323.6L963.3 1323.5L964.0 1323.0L964.7 1322.1L965.4 1321.5L966.1 1321.5L966.8 1320.8L967.5 1319.2L968.2 1316.6L968.9 1314.8L969.6 1313.9L970.3 1312.3L971.0 1311.0L971.7 1310.8L972.4 1310.7L973.1 1310.9L973.8 1310.9L974.5 1311.1L975.2 1311.4L975.9 1311.1L976.6 1310.8L977.3 1312.2L978.0 1313.8L978.7 1314.7L979.4 1315.5L980.1 1316.7L980.8 1317.9L981.5 1318.4L982.2 1317.8L982.9 1317.7L983.6 1317.6L984.3 1317.1L985.0 1317.0L985.7 1317.3L986.4 1318.1L987.1 1318.8L987.8 1317.6L988.5 1316.0L989.2 1315.6L989.9 1315.0L990.6 1313.4L991.3 1312.1L992.0 1311.2L992.7 1310.4L993.4 1310.9L994.1 1312.0L994.8 1312.5L995.5 1314.1L996.2 1315.9L996.9 1316.5L997.6 1317.1L998.3 1317.1L999.0 1317.2L999.7 1318.9L1000.4 1320.3L1001.1 1320.0L1001.8 1319.9L1002.5 1320.4L1003.2 1320.8L1003.9 1321.0L1004.6 1320.8"/>
</g>
<g font-size="40" fill="#000"><text x="127.75" y="1451.8"> 0</text><path transform="translate(127.75 1451.80) scale(0.01953 -0.01869)" d="M834 0L553 0L553 1059Q399 915 190 846L190 1101Q300 1137 429 1237Q558 1338 606 1472L834 1472Z"/><text x="249.92" y="1451.8">20</text><text x="372.09" y="1451.8">30</text><text x="494.26" y="1451.8">40</text><text x="616.43" y="1451.8">50</text><text x="738.60" y="1451.8">60</text><text x="860.77" y="1451.8">70</text><text x="982.94" y="1451.8">80</text></g>
<g font-size="35" letter-spacing="-0.9">
<g transform="translate(421.8 183.9) rotate(-90)" fill="#0000ff"><text>( 00)</text><path transform="translate(10.76 0.00) scale(0.01709 -0.01635)" d="M834 0L553 0L553 1059Q399 915 190 846L190 1101Q300 1137 429 1237Q558 1338 606 1472L834 1472Z"/></g>
<g transform="translate(456.6 230.1) rotate(-90)" fill="#0000ff"><text>(002)</text></g>
<g transform="translate(502.0 88.9) rotate(-90)" fill="#0000ff"><text>( 0 )</text><path transform="translate(10.76 0.00) scale(0.01709 -0.01635)" d="M834 0L553 0L553 1059Q399 915 190 846L190 1101Q300 1137 429 1237Q558 1338 606 1472L834 1472Z"/><path transform="translate(47.89 0.00) scale(0.01709 -0.01635)" d="M834 0L553 0L553 1059Q399 915 190 846L190 1101Q300 1137 429 1237Q558 1338 606 1472L834 1472Z"/></g>
<g transform="translate(619.0 310.2) rotate(-90)" fill="#0000ff"><text>( 02)</text><path transform="translate(10.76 0.00) scale(0.01709 -0.01635)" d="M834 0L553 0L553 1059Q399 915 190 846L190 1101Q300 1137 429 1237Q558 1338 606 1472L834 1472Z"/></g>
<g transform="translate(730.1 276.0) rotate(-90)" fill="#0000ff"><text>(  0)</text><path transform="translate(10.76 0.00) scale(0.01709 -0.01635)" d="M834 0L553 0L553 1059Q399 915 190 846L190 1101Q300 1137 429 1237Q558 1338 606 1472L834 1472Z"/><path transform="translate(29.32 0.00) scale(0.01709 -0.01635)" d="M834 0L553 0L553 1059Q399 915 190 846L190 1101Q300 1137 429 1237Q558 1338 606 1472L834 1472Z"/></g>
<g transform="translate(810.0 297.1) rotate(-90)" fill="#0000ff"><text>( 03)</text><path transform="translate(10.76 0.00) scale(0.01709 -0.01635)" d="M834 0L553 0L553 1059Q399 915 190 846L190 1101Q300 1137 429 1237Q558 1338 606 1472L834 1472Z"/></g>
<g transform="translate(842.0 369.9) rotate(-90)" fill="#0000ff"><text>(200)</text></g>
<g transform="translate(870.5 305.0) rotate(-90)" fill="#0000ff"><text>(  2)</text><path transform="translate(10.76 0.00) scale(0.01709 -0.01635)" d="M834 0L553 0L553 1059Q399 915 190 846L190 1101Q300 1137 429 1237Q558 1338 606 1472L834 1472Z"/><path transform="translate(29.32 0.00) scale(0.01709 -0.01635)" d="M834 0L553 0L553 1059Q399 915 190 846L190 1101Q300 1137 429 1237Q558 1338 606 1472L834 1472Z"/></g>
<g transform="translate(896.2 348.7) rotate(-90)" fill="#0000ff"><text>(20 )</text><path transform="translate(47.89 0.00) scale(0.01709 -0.01635)" d="M834 0L553 0L553 1059Q399 915 190 846L190 1101Q300 1137 429 1237Q558 1338 606 1472L834 1472Z"/></g>
<g transform="translate(930.9 380.0) rotate(-90)" fill="#0000ff"><text>(004)</text></g>
<g transform="translate(980.9 376.7) rotate(-90)" fill="#0000ff"><text>(202)</text></g>
<g transform="translate(424.8 655.7) rotate(-90)" fill="#ff0000"><text>( 00)</text><path transform="translate(10.76 0.00) scale(0.01709 -0.01635)" d="M834 0L553 0L553 1059Q399 915 190 846L190 1101Q300 1137 429 1237Q558 1338 606 1472L834 1472Z"/></g>
<g transform="translate(455.7 696.5) rotate(-90)" fill="#ff0000"><text>(002)</text></g>
<g transform="translate(481.5 503.8) rotate(-90)" fill="#ff0000"><text>( 0 )</text><path transform="translate(10.76 0.00) scale(0.01709 -0.01635)" d="M834 0L553 0L553 1059Q399 915 190 846L190 1101Q300 1137 429 1237Q558 1338 606 1472L834 1472Z"/><path transform="translate(47.89 0.00) scale(0.01709 -0.01635)" d="M834 0L553 0L553 1059Q399 915 190 846L190 1101Q300 1137 429 1237Q558 1338 606 1472L834 1472Z"/></g>
<g transform="translate(620.8 781.0) rotate(-90)" fill="#ff0000"><text>( 02)</text><path transform="translate(10.76 0.00) scale(0.01709 -0.01635)" d="M834 0L553 0L553 1059Q399 915 190 846L190 1101Q300 1137 429 1237Q558 1338 606 1472L834 1472Z"/></g>
<g transform="translate(726.6 742.1) rotate(-90)" fill="#ff0000"><text>(  0)</text><path transform="translate(10.76 0.00) scale(0.01709 -0.01635)" d="M834 0L553 0L553 1059Q399 915 190 846L190 1101Q300 1137 429 1237Q558 1338 606 1472L834 1472Z"/><path transform="translate(29.32 0.00) scale(0.01709 -0.01635)" d="M834 0L553 0L553 1059Q399 915 190 846L190 1101Q300 1137 429 1237Q558 1338 606 1472L834 1472Z"/></g>
<g transform="translate(802.3 763.3) rotate(-90)" fill="#ff0000"><text>( 03)</text><path transform="translate(10.76 0.00) scale(0.01709 -0.01635)" d="M834 0L553 0L553 1059Q399 915 190 846L190 1101Q300 1137 429 1237Q558 1338 606 1472L834 1472Z"/></g>
<g transform="translate(842.1 839.3) rotate(-90)" fill="#ff0000"><text>(200)</text></g>
<g transform="translate(870.1 766.8) rotate(-90)" fill="#ff0000"><text>(  2)</text><path transform="translate(10.76 0.00) scale(0.01709 -0.01635)" d="M834 0L553 0L553 1059Q399 915 190 846L190 1101Q300 1137 429 1237Q558 1338 606 1472L834 1472Z"/><path transform="translate(29.32 0.00) scale(0.01709 -0.01635)" d="M834 0L553 0L553 1059Q399 915 190 846L190 1101Q300 1137 429 1237Q558 1338 606 1472L834 1472Z"/></g>
<g transform="translate(893.5 818.2) rotate(-90)" fill="#ff0000"><text>(20 )</text><path transform="translate(47.89 0.00) scale(0.01709 -0.01635)" d="M834 0L553 0L553 1059Q399 915 190 846L190 1101Q300 1137 429 1237Q558 1338 606 1472L834 1472Z"/></g>
<g transform="translate(929.7 852.1) rotate(-90)" fill="#ff0000"><text>(004)</text></g>
<g transform="translate(981.1 846.3) rotate(-90)" fill="#ff0000"><text>(202)</text></g>
</g>
<g font-size="52">
<text x="94" y="57.7" fill="#0000ff">(c)</text>
<text x="96.3" y="488" fill="#ff0000">(b)</text>
<text x="95.3" y="954" fill="#000">(a)</text>
</g>
<text x="412" y="1520" font-size="56" fill="#000">2</text>
<text transform="translate(443.6 1520.5) scale(1.15 1)" style="font-family:'Liberation Serif',serif;font-weight:normal" font-size="55" stroke="#000" stroke-width="1.2" fill="#000">θ</text>
<text x="488.1" y="1520" font-size="56" fill="#000">(deg.)</text>
<text transform="translate(48.4 676) rotate(-90)" font-size="56" text-anchor="middle" letter-spacing="-0.2" fill="#000">Intensity (Cps.)</text>
</svg>
</body></html>
